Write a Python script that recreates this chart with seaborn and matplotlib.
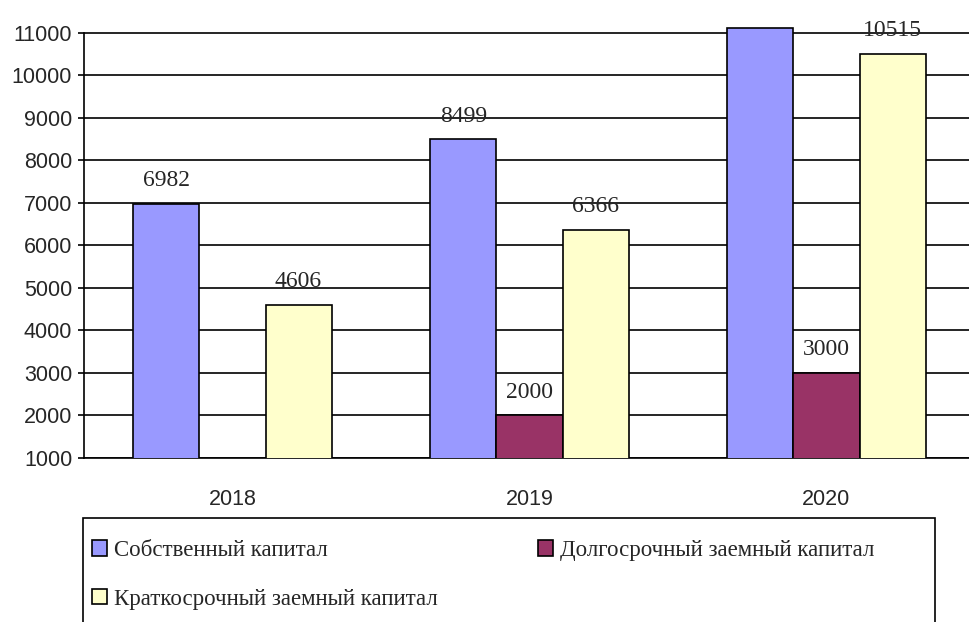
import numpy as np
import pandas as pd
import matplotlib
matplotlib.use("Agg")
import matplotlib.pyplot as plt
import seaborn as sns

# --- Data ---
years = ["2018", "2019", "2020"]
series = ["Собственный капитал", "Долгосрочный заемный капитал", "Краткосрочный заемный капитал"]
own_capital = [6982, 8499, 11120]
long_term = [np.nan, 2000, 3000]
short_term = [4606, 6366, 10515]
colors = ["#9999FF", "#993366", "#FFFFCC"]
yticks = list(range(1000, 11001, 1000))
ymax_shown = 11000  # labels above this are cut off in the source

df = pd.DataFrame({
    "year": years * 3,
    "series": [s for s in series for _ in years],
    "value": own_capital + long_term + short_term,
})

sns.set_style("white")
plt.rcParams["font.family"] = ["Liberation Sans", "DejaVu Sans"]

fig = plt.figure(figsize=(9.7, 6.22), dpi=100)
ax = fig.add_axes([84 / 970, 1 - 458 / 622, 891 / 970, (458 - 26.6) / 622])

sns.barplot(data=df, x="year", y="value", hue="series", palette=colors,
            width=0.667, gap=0, edgecolor="black", linewidth=1.2,
            saturation=1, legend=False, ax=ax, zorder=3)

ax.set_ylim(1000, 11150)
ax.set_xlim(-0.5, 2.5)
ax.set_yticks(yticks)
ax.set_yticklabels([str(t) for t in yticks], fontsize=15.5)
for t in yticks:
    ax.axhline(t, color="black", lw=1.2, zorder=1)

# category labels without ticks, separators as minor ticks
ax.set_xticks(range(len(years)))
ax.set_xticklabels(years, fontsize=15.5)
ax.tick_params(axis="x", which="major", length=0, pad=22)
ax.set_xticks([-0.5, 0.5, 1.5, 2.5], minor=True)
ax.tick_params(axis="x", which="minor", length=5, width=1.2, direction="out", color="black")
ax.tick_params(axis="y", length=4.5, width=1.2, direction="out", color="black", left=True, pad=4)

for side in ["top", "right"]:
    ax.spines[side].set_visible(False)
ax.spines["left"].set_bounds(1000, 11000)
for side in ["left", "bottom"]:
    ax.spines[side].set_linewidth(1.2)
    ax.spines[side].set_color("black")
ax.set_xlabel("")
ax.set_ylabel("")

# data labels
for cont in ax.containers:
    for bar in cont:
        h = bar.get_height()
        if np.isnan(h) or h <= 0 or h > ymax_shown:
            continue
        ax.text(bar.get_x() + bar.get_width() / 2, h + 300, f"{int(h)}",
                ha="center", va="bottom", fontsize=17, family="Liberation Serif",
                zorder=4)

# legend: row-wise order (own, long / short)
order = [0, 2, 1]
handles = [plt.Rectangle((0, 0), 1, 1, facecolor=colors[k], edgecolor="black", lw=1.2) for k in order]
labels = [series[k] for k in order]
leg = fig.legend(handles, labels, loc="upper left",
                 bbox_to_anchor=(92 / 970, 1 - 540 / 622),
                 ncol=2, frameon=False,
                 prop={"family": "Liberation Serif", "size": 16.5},
                 handlelength=0.65, handleheight=0.65, handletextpad=0.3,
                 labelspacing=1.2, columnspacing=4.4, borderpad=0, borderaxespad=0)
frame = plt.Rectangle((83 / 970, -0.05), 852 / 970, 0.05 + (622 - 518) / 622,
                      transform=fig.transFigure, fill=False, edgecolor="black", lw=1.2)
fig.patches.append(frame)

fig.savefig("out.png", dpi=100)
